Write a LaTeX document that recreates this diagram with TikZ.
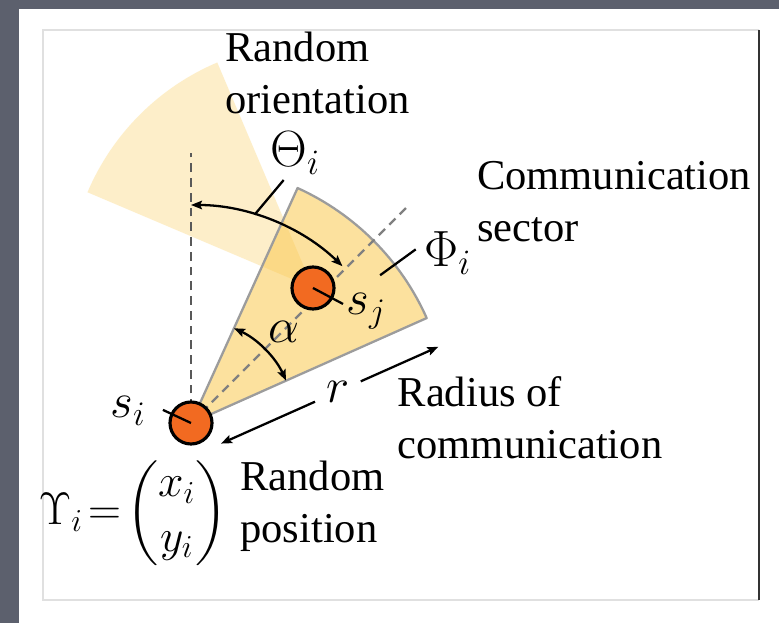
\RequirePackage{fix-cm}
\documentclass[tikz,border=0pt]{standalone}
\usepackage{amsmath}
\usepackage[no-math]{fontspec}
\setmainfont{Liberation Serif}
\usepackage{tikz}
\usetikzlibrary{arrows.meta, calc, positioning}
\definecolor{rahmen}{HTML}{5C606D}
\definecolor{sektor}{HTML}{FBC94F}
\definecolor{knoten}{HTML}{F26A21}
\definecolor{kante}{HTML}{9C9C9C}

\tikzset{
  beschriftung/.style={font=\fontsize{24.2}{29.6}\selectfont, align=left,
                       anchor=base west, inner sep=0pt},
  formel/.style={font=\fontsize{28}{33}\selectfont, inner sep=0pt, anchor=base west},
  grossformel/.style={formel, font=\fontsize{29}{34}\selectfont},
  sensor/.style={circle, draw=black, line width=1.8pt, fill=knoten,
                 minimum size=0.84cm, inner sep=0pt},
  spitze/.tip={Stealth[length=0.22cm, width=0.17cm, inset=0.04cm]},
  pfeil/.style={line width=1.3pt, spitze-spitze},
  strich/.style={line width=1.3pt},
  strichlinie/.style={line width=1.4pt, dash pattern=on 5pt off 3.4pt},
}

\begin{document}
\begin{tikzpicture}[x=0.02cm, y=0.02cm]
      % Rahmen
      \fill[rahmen] (0,0) rectangle (779,623);
      \fill[white] (19,0) rectangle (779,614);
      \draw[black!12, line width=1pt] (759,593) -- (43,593) -- (43,23) -- (759,23);
      \draw[black!80, line width=1.2pt] (759,593) -- (759,23);
      \useasboundingbox (0,0) rectangle (779,623);

      \coordinate (si) at (191,200);
      \coordinate (sj) at (313,335);

      % Sektoren
      \fill[sektor, opacity=0.3] (sj) -- ++(157:245)
        arc[start angle=157, end angle=113, radius=245] -- cycle;
      \filldraw[fill=sektor, fill opacity=0.55, draw=kante, line width=1.3pt,
                line join=round] (si) -- ++(24:258)
        arc[start angle=24, end angle=65.6, radius=258] -- cycle;

      % Hilfslinien
      \draw[strichlinie, black!65] (si) -- ++(90:270);
      \draw[strichlinie, black!50] (si) -- ++(45:305);

      % Winkel
      \draw[pfeil] ($(si)+(90:218)$) arc[start angle=90, end angle=46, radius=218];
      \draw[pfeil] ($(si)+(65.6:104)$) arc[start angle=65.6, end angle=24, radius=104];

      % Knoten
      \node[sensor] (knoten i) at (si) {};
      \node[sensor] (knoten j) at (sj) {};

      % Zeiger
      \coordinate (zeiger i) at ($(si)+(155:31)$);
      \coordinate (zeiger j) at ($(sj)+(-28:34)$);
      \coordinate (theta fuss) at ($(si)+(73:218)$);
      \coordinate (theta kopf) at ($(theta fuss)+(50:45)$);
      \coordinate (phi fuss) at ($(si)+(38:240)$);
      \coordinate (phi kopf) at ($(phi fuss)+(36:44)$);
      \draw[strich] (si) -- (zeiger i);
      \draw[strich] (sj) -- (zeiger j);
      \draw[strich] (theta fuss) -- (theta kopf);
      \draw[strich] (phi fuss) -- (phi kopf);

      % Radius
      \coordinate (r anfang) at ($(si)+(-66:31)+(24:19)$);
      \coordinate (r ende) at ($(si)+(-66:31)+(24:257)$);
      \node[formel, anchor=center, inner xsep=0.22cm, inner ysep=2pt]
        (radius) at ($(si)+(-66:31)+(24:147)$) {$r$};
      \draw[strich, -spitze] (radius) -- (r anfang);
      \draw[strich, -spitze] (radius) -- (r ende);

      % Formeln
      \node[formel] (label i) at (110,205) {$s_i$};
      \node[formel] (label j) at (346,308) {$s_j$};
      \node[formel] (alpha) at (268,280) {$\alpha$};
      \node[grossformel] (theta) at (270,456) {$\Theta_i$};
      \node[grossformel] (phi) at (424,356) {$\Phi_i$};
      \node[formel, font=\fontsize{26}{31}\selectfont, anchor=center] (position) at (133,110)
        {$\Upsilon_i\!=\!\begin{pmatrix} x_i \\ y_i \end{pmatrix}$};

      % Texte
      \node[beschriftung] (orientierung) at (225,509.7) {Random\\orientation};
      \node[beschriftung] (sektortext) at (476.7,381.3) {Communication\\sector};
      \node[beschriftung] (radiustext) at (397.4,164) {Radius of\\communication};
      \node[beschriftung] (positiontext) at (240,80) {Random\\position};
    \end{tikzpicture}
\end{document}
